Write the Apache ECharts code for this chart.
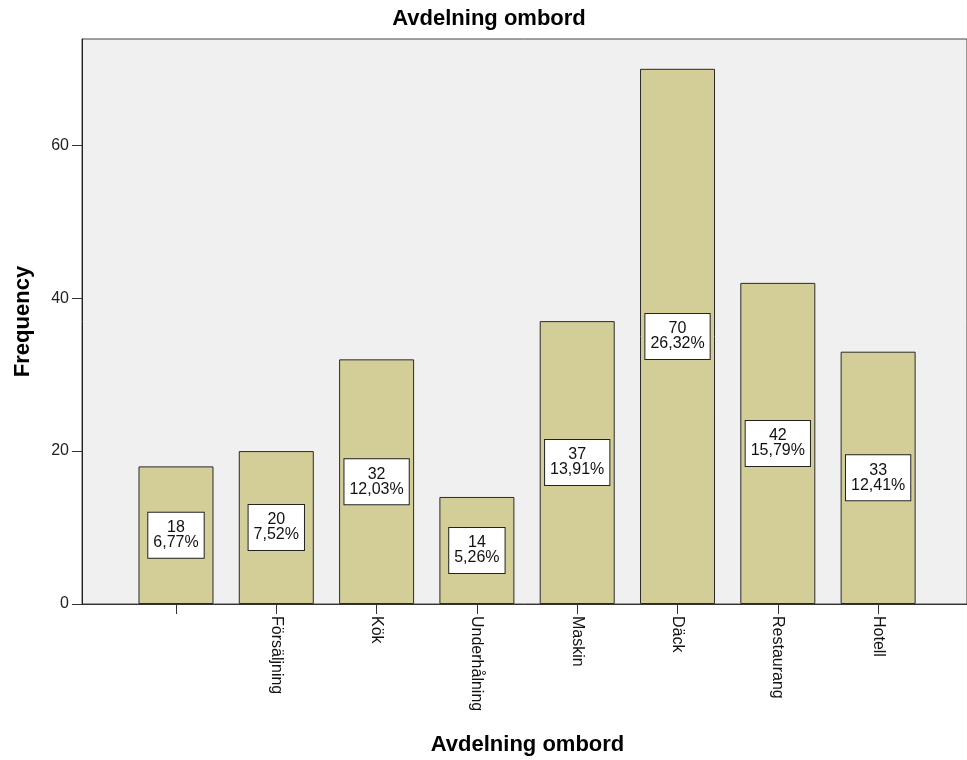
<!DOCTYPE html>
<html>
<head>
<meta charset="utf-8">
<script src="https://cdn.jsdelivr.net/npm/echarts@6/dist/echarts.min.js"></script>
<style>
  html, body { margin: 0; padding: 0; background: #ffffff; }
  #chart { width: 967px; height: 760px; }
</style>
</head>
<body>
<div id="chart"></div>
<script>
// Avdelning ombord – frequency per department
const categories = ['', 'Försäljning', 'Kök', 'Underhålning', 'Maskin', 'Däck', 'Restaurang', 'Hotell'];
const frequencies = [18, 20, 32, 14, 37, 70, 42, 33];
const percentLabels = ['6,77%', '7,52%', '12,03%', '5,26%', '13,91%', '26,32%', '15,79%', '12,41%'];
const yTicks = [0, 20, 40, 60];

const positions = categories.map((_, i) => i);
const barData = frequencies.map((v, i) => [i, v]);

const font = 'Liberation Sans, Arial, sans-serif';
const chart = echarts.init(document.getElementById('chart'), null, { renderer: 'canvas' });

chart.setOption({
  animation: false,
  title: {
    text: 'Avdelning ombord',
    left: 484,
    textAlign: 'center',
    top: 3,
    textStyle: { fontFamily: font, fontSize: 22, fontWeight: 'bold', color: '#000' }
  },
  grid: {
    left: 82, right: 0, top: 39, bottom: 156,
    outerBoundsMode: 'none',
    containLabel: false,
    show: true,
    backgroundColor: '#f0f0f0',
    borderColor: '#444',
    borderWidth: 1
  },
  xAxis: {
    type: 'value',
    min: -0.937,
    max: 7.886,
    name: 'Avdelning ombord',
    nameLocation: 'middle',
    nameGap: 130,
    nameTextStyle: { fontFamily: font, fontSize: 22, fontWeight: 'bold', color: '#000', padding: [0, 0, 0, 6] },
    splitLine: { show: false },
    axisLine: { show: true, onZero: false, lineStyle: { color: '#333', width: 1 } },
    axisTick: { show: true, length: 10, customValues: positions, lineStyle: { color: '#333' } },
    axisLabel: {
      customValues: positions,
      rotate: -90,
      margin: 12,
      fontFamily: font,
      fontSize: 16,
      color: '#111',
      formatter: v => categories[Math.round(v)] || ''
    }
  },
  yAxis: {
    type: 'value',
    min: 0,
    max: 73.9,
    name: 'Frequency',
    nameLocation: 'middle',
    nameGap: 48,
    nameRotate: 90,
    nameTextStyle: { fontFamily: font, fontSize: 22, fontWeight: 'bold', color: '#000' },
    splitLine: { show: false },
    axisLine: { show: true, onZero: false, lineStyle: { color: '#222', width: 1 } },
    axisTick: { show: true, length: 10, customValues: yTicks, lineStyle: { color: '#333' } },
    axisLabel: { customValues: yTicks, margin: 13, fontFamily: font, fontSize: 16, color: '#222' }
  },
  series: [{
    type: 'bar',
    data: barData,
    barWidth: 75,
    itemStyle: { color: '#d3ce97', borderColor: '#2a2a2a', borderWidth: 1 },
    label: {
      show: true,
      position: 'inside',
      formatter: p => frequencies[p.dataIndex] + '\n' + percentLabels[p.dataIndex],
      fontFamily: font,
      fontSize: 16,
      lineHeight: 15,
      color: '#111',
      align: 'center',
      backgroundColor: '#ffffff',
      borderColor: '#222',
      borderWidth: 1,
      padding: [8, 5, 7, 5]
    }
  }]
});
</script>
</body>
</html>
